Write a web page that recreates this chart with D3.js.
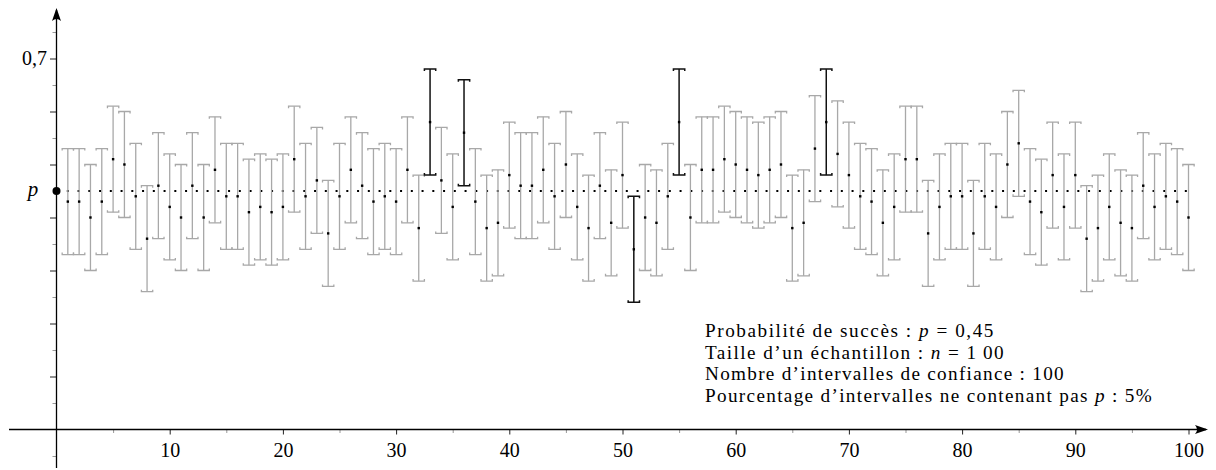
<!DOCTYPE html>
<html>
<head>
<meta charset="utf-8">
<script src="https://cdn.jsdelivr.net/npm/d3@7"></script>
<style>
  body { margin: 0; background: #fff; }
  svg { display: block; }
  text { font-family: "Liberation Serif", "DejaVu Serif", serif; fill: #000; }
</style>
</head>
<body>
<svg id="chart" width="1216" height="470"></svg>
<script>
// parameters of the simulation
var p = 0.45;
var n = 100;
var halfWidth = 1 / Math.sqrt(n);

var sampleNumbers = [
  1, 2, 3, 4, 5, 6, 7, 8, 9, 10, 11, 12, 13, 14, 15, 16, 17, 18, 19, 20,
  21, 22, 23, 24, 25, 26, 27, 28, 29, 30, 31, 32, 33, 34, 35, 36, 37, 38, 39, 40,
  41, 42, 43, 44, 45, 46, 47, 48, 49, 50, 51, 52, 53, 54, 55, 56, 57, 58, 59, 60,
  61, 62, 63, 64, 65, 66, 67, 68, 69, 70, 71, 72, 73, 74, 75, 76, 77, 78, 79, 80,
  81, 82, 83, 84, 85, 86, 87, 88, 89, 90, 91, 92, 93, 94, 95, 96, 97, 98, 99, 100
];
var frequencies = [
  0.43, 0.43, 0.40, 0.43, 0.51, 0.50, 0.44, 0.36, 0.46, 0.42,
  0.40, 0.46, 0.40, 0.49, 0.44, 0.44, 0.41, 0.42, 0.41, 0.42,
  0.51, 0.44, 0.47, 0.37, 0.44, 0.49, 0.46, 0.43, 0.44, 0.43,
  0.49, 0.38, 0.58, 0.47, 0.42, 0.56, 0.43, 0.38, 0.39, 0.48,
  0.46, 0.46, 0.49, 0.44, 0.50, 0.42, 0.38, 0.46, 0.39, 0.48,
  0.34, 0.40, 0.39, 0.44, 0.58, 0.40, 0.49, 0.49, 0.51, 0.50,
  0.49, 0.48, 0.49, 0.50, 0.38, 0.39, 0.53, 0.58, 0.52, 0.48,
  0.44, 0.43, 0.39, 0.42, 0.51, 0.51, 0.37, 0.42, 0.44, 0.44,
  0.37, 0.44, 0.42, 0.50, 0.54, 0.43, 0.41, 0.48, 0.42, 0.48,
  0.36, 0.38, 0.42, 0.39, 0.38, 0.46, 0.42, 0.44, 0.43, 0.40
];

// axis ticks
var xMajorTicks = [10, 20, 30, 40, 50, 60, 70, 80, 90, 100];
var xMinorTicks = [5, 15, 25, 35, 45, 55, 65, 75, 85, 95];
var yMajorTicks = [0.1, 0.2, 0.3, 0.4, 0.5, 0.6, 0.7];
var yMinorTicks = [-0.05, 0.05, 0.15, 0.25, 0.35, 0.55, 0.65, 0.75];
var yTickLabels = {"0.7": "0,7"};

// legend lines
var infoLines = [
  ["Probabilité de succès : ", "p", " = 0,45"],
  ["Taille d\u2019un échantillon : ", "n", " = 1\u200900"],
  ["Nombre d\u2019intervalles de confiance : 100"],
  ["Pourcentage d\u2019intervalles ne contenant pas ", "p", " : 5%"]
];
// widths the lines take in the picture (the original font is wider)
var infoWidths = [290, 300, 360, 448];

var svg = d3.select("#chart");

var x = d3.scaleLinear().domain([0, 100]).range([56.5, 1188.5]);
var y = d3.scaleLinear().domain([0, 0.7]).range([429.5, 58.5]);

var data = sampleNumbers.map(function (k, i) {
  var f = frequencies[i];
  return {
    k: k,
    f: f,
    lo: f - halfWidth,
    hi: f + halfWidth,
    miss: Math.abs(f - p) > halfWidth + 1e-9
  };
});

// x axis
var xAxisG = svg.append("g").attr("transform", "translate(0," + y(0) + ")");
xAxisG.call(d3.axisBottom(x).tickValues(xMinorTicks).tickSize(3.5).tickFormat(""))
  .call(function (g) { g.select(".domain").remove(); })
  .selectAll("line").attr("stroke", "#999");
var xMajorG = svg.append("g").attr("transform", "translate(0," + y(0) + ")");
xMajorG.call(d3.axisBottom(x).tickValues(xMajorTicks).tickSize(5).tickPadding(8).tickFormat(d3.format("d")))
  .call(function (g) { g.select(".domain").remove(); });
xMajorG.selectAll("text").attr("font-size", 20).attr("font-family", "Liberation Serif");
xMajorG.selectAll("line").attr("stroke", "#222");

// y axis
var yMinorG = svg.append("g").attr("transform", "translate(" + x(0) + ",0)");
yMinorG.call(d3.axisLeft(y).tickValues(yMinorTicks).tickSize(4).tickFormat(""))
  .call(function (g) { g.select(".domain").remove(); })
  .selectAll("line").attr("stroke", "#999");
var yMajorG = svg.append("g").attr("transform", "translate(" + x(0) + ",0)");
yMajorG.call(d3.axisLeft(y).tickValues(yMajorTicks).tickSize(6.5).tickPadding(3)
    .tickFormat(function (d) { return yTickLabels[String(d)] || ""; }))
  .call(function (g) { g.select(".domain").remove(); });
yMajorG.selectAll("text").attr("font-size", 20).attr("font-family", "Liberation Serif");
yMajorG.selectAll("line").attr("stroke", "#222");

// axis lines with arrow heads
svg.append("line")
  .attr("x1", 9).attr("x2", 1206)
  .attr("y1", y(0)).attr("y2", y(0))
  .attr("stroke", "#000").attr("stroke-width", 1.3);
svg.append("line")
  .attr("x1", x(0)).attr("x2", x(0))
  .attr("y1", 468).attr("y2", 10)
  .attr("stroke", "#000").attr("stroke-width", 1.3);

var ax = 1208, ay = y(0);
svg.append("path")
  .attr("d", "M" + ax + "," + ay + " L" + (ax - 13) + "," + (ay - 4.5) +
    " Q" + (ax - 9) + "," + ay + " " + (ax - 13) + "," + (ay + 4.5) + " Z")
  .attr("fill", "#000");
var tx = x(0), ty = 8;
svg.append("path")
  .attr("d", "M" + tx + "," + ty + " L" + (tx + 4.5) + "," + (ty + 13) +
    " Q" + tx + "," + (ty + 9) + " " + (tx - 4.5) + "," + (ty + 13) + " Z")
  .attr("fill", "#000");

// dotted line at p
svg.append("line")
  .attr("x1", x(1)).attr("x2", x(100))
  .attr("y1", y(p)).attr("y2", y(p))
  .attr("stroke", "#000")
  .attr("stroke-width", 2)
  .attr("stroke-linecap", "square")
  .attr("stroke-dasharray", "0 10.75");

// confidence intervals
var capW = (x(1) - x(0)) / 2;
var intervals = svg.append("g").selectAll("g")
  .data(data)
  .enter().append("g")
  .attr("stroke", function (d) { return d.miss ? "#111" : "#a8a8a8"; })
  .attr("stroke-width", function (d) { return d.miss ? 1.5 : 1.3; })
  .attr("fill", "none");

intervals.append("line")
  .attr("x1", function (d) { return x(d.k); })
  .attr("x2", function (d) { return x(d.k); })
  .attr("y1", function (d) { return y(d.lo); })
  .attr("y2", function (d) { return y(d.hi); });

intervals.append("path")
  .attr("d", function (d) {
    var cx = x(d.k), cy = y(d.hi);
    return "M" + (cx - capW) + "," + (cy + 2) + " V" + cy + " H" + (cx + capW) + " V" + (cy + 2);
  });
intervals.append("path")
  .attr("d", function (d) {
    var cx = x(d.k), cy = y(d.lo);
    return "M" + (cx - capW) + "," + (cy - 2) + " V" + cy + " H" + (cx + capW) + " V" + (cy - 2);
  });

// observed frequencies
svg.append("g").selectAll("rect")
  .data(data)
  .enter().append("rect")
  .attr("x", function (d) { return x(d.k) - 1.2; })
  .attr("y", function (d) { return y(d.f) - 1.2; })
  .attr("width", 2.4)
  .attr("height", 2.4)
  .attr("fill", "#000");

// p on the y axis
svg.append("circle")
  .attr("cx", x(0)).attr("cy", y(p)).attr("r", 4)
  .attr("fill", "#000");
svg.append("text")
  .attr("x", 33).attr("y", y(p) + 5)
  .attr("text-anchor", "middle")
  .attr("font-size", 21)
  .attr("font-style", "italic")
  .text("p");

// information text
var info = svg.append("g");
infoLines.forEach(function (parts, i) {
  var t = info.append("text")
    .attr("x", 705)
    .attr("y", 337 + i * 21.5)
    .attr("font-size", 19.2);
  parts.forEach(function (s, j) {
    t.append("tspan")
      .attr("font-style", j === 1 ? "italic" : null)
      .text(s);
  });
  // stretch the letter spacing so the line reaches its width
  var node = t.node();
  var w = node.getComputedTextLength();
  var chars = node.textContent.length;
  t.attr("letter-spacing", ((infoWidths[i] - w) / chars) + "px");
});
</script>
</body>
</html>
